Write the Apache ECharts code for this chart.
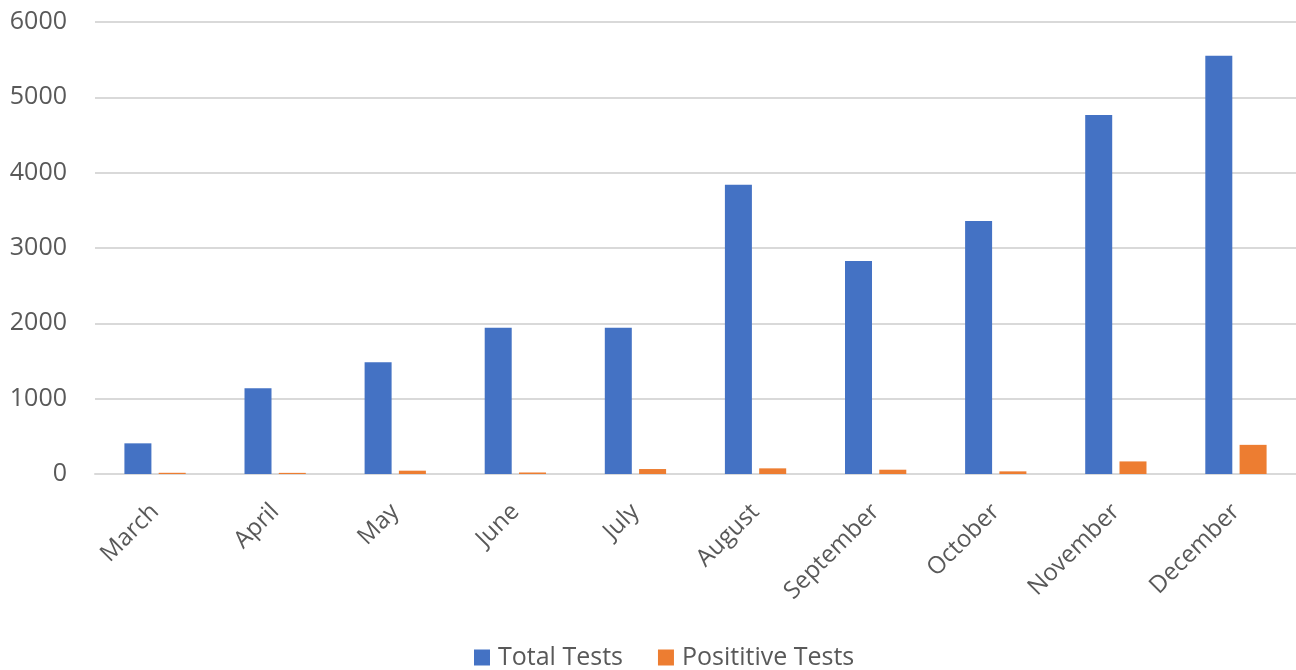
<!DOCTYPE html>
<html>
<head>
<meta charset="utf-8">
<script src="https://cdn.jsdelivr.net/npm/echarts@6/dist/echarts.min.js"></script>
<style>
  html, body { margin: 0; padding: 0; background: #fff; }
  #chart { width: 1296px; height: 670px; }
</style>
</head>
<body>
<div id="chart"></div>
<script>
const months = ['March', 'April', 'May', 'June', 'July', 'August', 'September', 'October', 'November', 'December']
const totalTests = [407, 1137, 1483, 1943, 1940, 3838, 2827, 3358, 4764, 5552]
const positiveTests = [16, 15, 44, 20, 66, 75, 57, 35, 167, 387]
const yTicks = [0, 1000, 2000, 3000, 4000, 5000, 6000]

const FONT = '"Open Sans", sans-serif'
const TEXT_COLOR = '#595959'
const GRID_COLOR = '#d9d9d9'

const chart = echarts.init(document.getElementById('chart'), null, { renderer: 'canvas' })

chart.setOption({
  animation: false,
  textStyle: { fontFamily: FONT },
  grid: {
    left: 95,
    top: 22,
    width: 1203,
    height: 452,
    containLabel: false
  },
  legend: {
    top: 645,
    left: 474,
    padding: 0,
    itemWidth: 16,
    itemHeight: 16,
    itemGap: 35,
    icon: 'rect',
    textStyle: { fontFamily: FONT, fontSize: 25, color: TEXT_COLOR, padding: [0, 0, 0, 3] },
    data: ['Total Tests', 'Posititive Tests']
  },
  xAxis: {
    type: 'category',
    data: months,
    axisTick: { show: false },
    axisLine: { show: true, lineStyle: { color: GRID_COLOR, width: 2 } },
    axisLabel: {
      interval: 0,
      rotate: 45,
      margin: 34,
      fontFamily: FONT,
      fontSize: 24,
      color: TEXT_COLOR
    }
  },
  yAxis: {
    type: 'value',
    min: yTicks[0],
    max: yTicks[yTicks.length - 1],
    interval: 1000,
    axisLine: { show: false },
    axisTick: { show: false },
    splitLine: { lineStyle: { color: GRID_COLOR, width: 2 } },
    axisLabel: {
      margin: 28,
      fontFamily: FONT,
      fontSize: 25,
      color: TEXT_COLOR,
      formatter: (v) => String(v)
    }
  },
  series: [
    {
      name: 'Total Tests',
      type: 'bar',
      data: totalTests,
      barWidth: 27,
      barGap: '27%',
      itemStyle: { color: '#4472C4' }
    },
    {
      name: 'Posititive Tests',
      type: 'bar',
      data: positiveTests,
      barWidth: 27,
      itemStyle: { color: '#ED7D31' }
    }
  ]
})
</script>
</body>
</html>
